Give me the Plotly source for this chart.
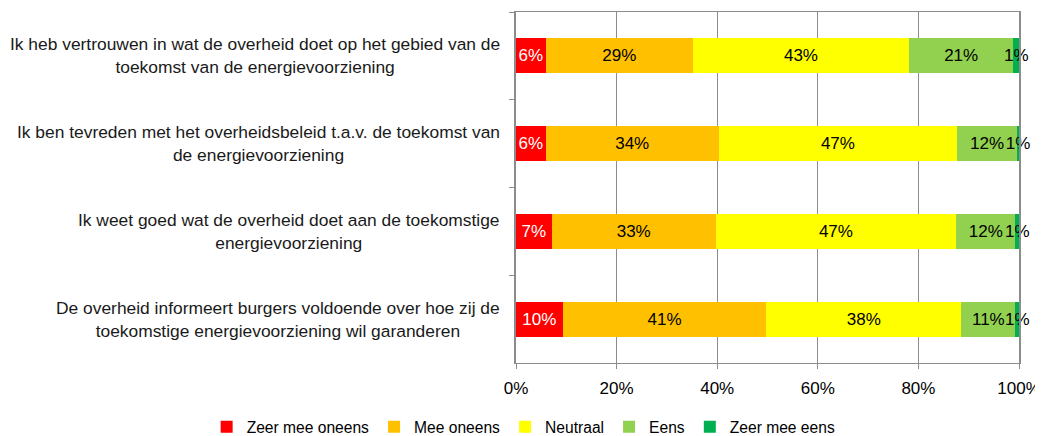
import plotly.graph_objects as go

categories = [
    "Ik heb vertrouwen in wat de overheid doet op het gebied van de<br>toekomst van de energievoorziening",
    "Ik ben tevreden met het overheidsbeleid t.a.v. de toekomst van<br>de energievoorziening",
    "Ik weet goed wat de overheid doet aan de toekomstige<br>energievoorziening",
    "De overheid informeert burgers voldoende over hoe zij de<br>toekomstige energievoorziening wil garanderen",
]
cat_ids = ["q1", "q2", "q3", "q4"]

series_names = ["Zeer mee oneens", "Mee oneens", "Neutraal", "Eens", "Zeer mee eens"]
zeer_mee_oneens = [5.9, 5.9, 7.1, 9.3]
mee_oneens = [29.3, 34.4, 32.6, 40.5]
neutraal = [42.9, 47.4, 47.8, 38.7]
eens = [20.8, 11.9, 11.8, 10.8]
zeer_mee_eens = [1.1, 0.4, 0.7, 0.7]

labels_zeer_mee_oneens = ["6%", "6%", "7%", "10%"]
labels_mee_oneens = ["29%", "34%", "33%", "41%"]
labels_neutraal = ["43%", "47%", "47%", "38%"]
labels_eens = ["21%", "12%", "12%", "11%"]
labels_zeer_mee_eens = ["1%", "1%", "1%", "1%"]

x_tickvals = [0, 20, 40, 60, 80, 100]
x_ticktext = ["0%", "20%", "40%", "60%", "80%", "100%"]

colors = ["#FF0000", "#FFC000", "#FFFF00", "#92D050", "#00B050"]
text_colors = ["#FFFFFF", "#000000", "#000000", "#000000", "#000000"]
values = [zeer_mee_oneens, mee_oneens, neutraal, eens, zeer_mee_eens]
labels = [labels_zeer_mee_oneens, labels_mee_oneens, labels_neutraal, labels_eens, labels_zeer_mee_eens]

FONT = "Liberation Sans, Arial, sans-serif"

fig = go.Figure()
for name, vals, lab, col, tcol in zip(series_names, values, labels, colors, text_colors):
    fig.add_trace(go.Bar(
        y=cat_ids, x=vals, name=name, orientation="h",
        marker=dict(color=col, line=dict(width=0)),
        text=lab, textposition="inside", insidetextanchor="middle",
        constraintext="none", textangle=0, cliponaxis=False,
        textfont=dict(color=tcol, size=17, family=FONT),
        hoverinfo="skip",
    ))

for cid, cat in zip(cat_ids, categories):
    fig.add_annotation(
        x=0, xref="paper", y=cid, yref="y", text=cat, showarrow=False,
        xanchor="right", yanchor="middle", align="center", xshift=-14,
        font=dict(size=17.4, color="#1a1a1a", family=FONT),
    )

# the page body adds an 8px offset, so the figure is 8px smaller on each side
fig.update_layout(
    barmode="stack", bargap=0.6,
    width=1035, height=428,
    margin=dict(l=508, r=24, t=4, b=73, autoexpand=False),
    paper_bgcolor="white", plot_bgcolor="white",
    font=dict(family=FONT, size=16, color="#000000"),
    showlegend=True,
    legend=dict(
        orientation="h", traceorder="normal",
        x=-0.615, xanchor="left", y=-0.183, yanchor="middle",
        font=dict(size=15.6, family=FONT, color="#000000"),
        tracegroupgap=0, bgcolor="rgba(0,0,0,0)",
    ),
    xaxis=dict(
        range=[0, 100], tickvals=x_tickvals, ticktext=x_ticktext,
        showgrid=True, gridcolor="#8c8c8c", gridwidth=1,
        showline=True, linecolor="#8c8c8c", linewidth=1, mirror=True,
        ticks="outside", ticklen=5, tickcolor="#8c8c8c",
        ticklabelstandoff=5,
        tickfont=dict(size=17, color="#000000"), zeroline=False, fixedrange=True,
        automargin=False,
    ),
    yaxis=dict(
        autorange="reversed", showticklabels=False,
        showline=True, linecolor="#8c8c8c", linewidth=2, mirror=True,
        ticks="outside", ticklen=5, tickcolor="#8c8c8c", tickson="boundaries",
        showgrid=False, fixedrange=True, automargin=False,
    ),
)

fig.write_html("out.html")
